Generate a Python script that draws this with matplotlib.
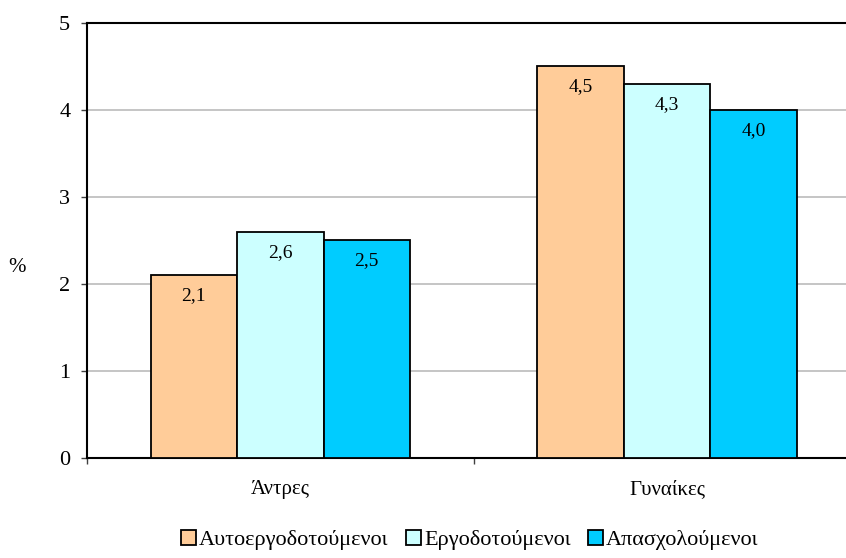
import numpy as np
import matplotlib
matplotlib.use("Agg")
import matplotlib.pyplot as plt

categories = ["Άντρες", "Γυναίκες"]
series_names = ["Αυτοεργοδοτούμενοι", "Εργοδοτούμενοι", "Απασχολούμενοι"]
values = [
    [2.1, 4.5],
    [2.6, 4.3],
    [2.5, 4.0],
]
value_labels = [
    ["2,1", "4,5"],
    ["2,6", "4,3"],
    ["2,5", "4,0"],
]
colors = ["#FFCC99", "#CCFFFF", "#00CCFF"]

plt.rcParams["font.family"] = ["Liberation Serif", "DejaVu Serif"]

fig = plt.figure(figsize=(8.46, 5.58), dpi=100)
ax = fig.add_axes([0.1028, 0.1792, 0.9143, 0.7796])

x = np.arange(len(categories))
w = 0.2235

for i, (name, vals) in enumerate(zip(series_names, values)):
    pos = x + (i - 1) * w
    bars = ax.bar(pos, vals, width=w, color=colors[i], edgecolor="black",
                  linewidth=1.3, label=name, zorder=3)
    for b, lab in zip(bars, value_labels[i]):
        ax.text(b.get_x() + b.get_width() / 2, b.get_height() - 0.235, lab,
                ha="center", va="center", fontsize=14, zorder=4)

ax.set_xlim(-0.5, 1.5)
ax.set_ylim(0, 5)
ax.set_yticks([0, 1, 2, 3, 4, 5])
ax.set_yticklabels(["0", "1", "2", "3", "4", "5"], fontsize=16)
ax.grid(axis="y", color="#C0C0C0", linewidth=1.3, zorder=0)

ax.set_xticks([-0.5, 0.5, 1.5])
ax.set_xticklabels([])
ax.set_xticks(x, minor=True)
ax.set_xticklabels(categories, minor=True, fontsize=15)
ax.tick_params(axis="x", which="minor", length=0, pad=16)
ax.tick_params(axis="x", which="major", length=4, width=1, color="#404040")
ax.tick_params(axis="y", length=4, width=1, color="#404040", pad=8)

for s in ["left", "bottom", "top"]:
    ax.spines[s].set_linewidth(1.5)
    ax.spines[s].set_color("black")
ax.spines["right"].set_visible(False)

fig.text(17 / 846, 1 - 267 / 558, "%", fontsize=15, ha="center", va="center")

ax.legend(loc="center", bbox_to_anchor=(470 / 846, 1 - 540 / 558),
          bbox_transform=fig.transFigure, ncol=3, frameon=False,
          fontsize=16, handlelength=0.65, handleheight=0.65,
          handletextpad=0.15, columnspacing=0.8, borderpad=0.2)

fig.savefig("out.png", dpi=100)
